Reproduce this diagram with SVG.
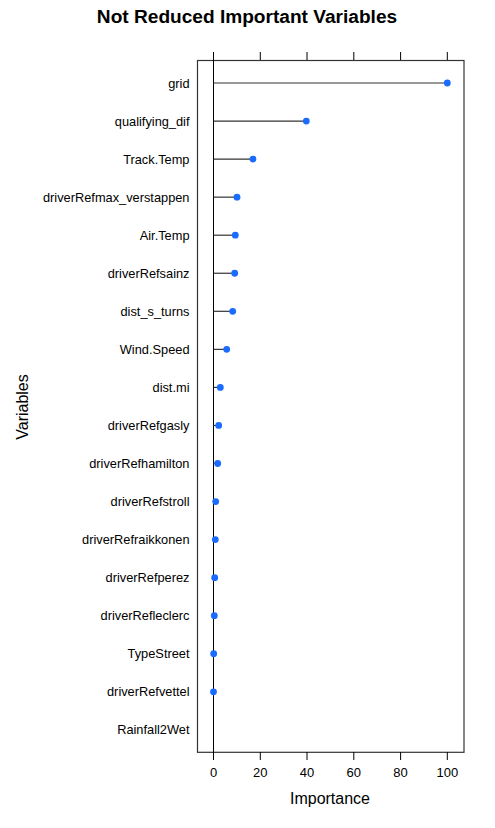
<svg xmlns="http://www.w3.org/2000/svg" width="495" height="828" viewBox="0 0 495 828">
<style>
text{font-family:"Liberation Sans",Arial,sans-serif;fill:#000}
.lab{font-size:12.8px;text-anchor:end}
.tick{font-size:13px;text-anchor:middle}
.seg{stroke:#333;stroke-width:1.2}
.pt{fill:#1a6bff}
.ax{stroke:#000;stroke-width:1;fill:none}
.box{stroke:#333;stroke-width:1.2;fill:none}
</style>
<rect width="495" height="828" fill="#fff"/>
<text x="247" y="22.5" font-size="19.1px" font-weight="bold" text-anchor="middle">Not Reduced Important Variables</text>
<rect class="box" x="197.5" y="60.5" width="266.5" height="691.8"/>
<g id="axes">
<line class="ax" x1="213.5" y1="52" x2="213.5" y2="760"/>
<g class="ax">
<line x1="260.3" y1="52" x2="260.3" y2="60"/>
<line x1="307" y1="52" x2="307" y2="60"/>
<line x1="353.8" y1="52" x2="353.8" y2="60"/>
<line x1="400.6" y1="52" x2="400.6" y2="60"/>
<line x1="447.3" y1="52" x2="447.3" y2="60"/>
<line x1="260.3" y1="752" x2="260.3" y2="760"/>
<line x1="307" y1="752" x2="307" y2="760"/>
<line x1="353.8" y1="752" x2="353.8" y2="760"/>
<line x1="400.6" y1="752" x2="400.6" y2="760"/>
<line x1="447.3" y1="752" x2="447.3" y2="760"/>
</g>
<text class="tick" x="213.5" y="776.7">0</text>
<text class="tick" x="260.3" y="776.7">20</text>
<text class="tick" x="307" y="776.7">40</text>
<text class="tick" x="353.8" y="776.7">60</text>
<text class="tick" x="400.6" y="776.7">80</text>
<text class="tick" x="447.3" y="776.7">100</text>
<text x="330" y="803.5" font-size="16px" text-anchor="middle">Importance</text>
<text transform="translate(27.5,407) rotate(-90)" font-size="16px" text-anchor="middle">Variables</text>
</g>
<g id="connectors">
<line class="seg" x1="213.5" y1="83" x2="447.3" y2="83"/>
<line class="seg" x1="213.5" y1="121.05" x2="306.3" y2="121.05"/>
<line class="seg" x1="213.5" y1="159.1" x2="253" y2="159.1"/>
<line class="seg" x1="213.5" y1="197.15" x2="237" y2="197.15"/>
<line class="seg" x1="213.5" y1="235.2" x2="235.3" y2="235.2"/>
<line class="seg" x1="213.5" y1="273.25" x2="234.7" y2="273.25"/>
<line class="seg" x1="213.5" y1="311.3" x2="232.7" y2="311.3"/>
<line class="seg" x1="213.5" y1="349.35" x2="226.7" y2="349.35"/>
<line class="seg" x1="213.5" y1="387.4" x2="220.3" y2="387.4"/>
<line class="seg" x1="213.5" y1="425.45" x2="218.7" y2="425.45"/>
<line class="seg" x1="213.5" y1="463.5" x2="217.7" y2="463.5"/>
<line class="seg" x1="213.5" y1="501.55" x2="215.7" y2="501.55"/>
<line class="seg" x1="213.5" y1="539.6" x2="215.3" y2="539.6"/>
</g>
<g id="grid"><text class="lab" x="189.5" y="87.5">grid</text><circle class="pt" cx="447.3" cy="83" r="3.4"/></g>
<g id="qualifying_dif"><text class="lab" x="189.5" y="125.55">qualifying_dif</text><circle class="pt" cx="306.3" cy="121.05" r="3.4"/></g>
<g id="Track.Temp"><text class="lab" x="189.5" y="163.6">Track.Temp</text><circle class="pt" cx="253" cy="159.1" r="3.4"/></g>
<g id="driverRefmax_verstappen"><text class="lab" x="189.5" y="201.65">driverRefmax_verstappen</text><circle class="pt" cx="237" cy="197.15" r="3.4"/></g>
<g id="Air.Temp"><text class="lab" x="189.5" y="239.7">Air.Temp</text><circle class="pt" cx="235.3" cy="235.2" r="3.4"/></g>
<g id="driverRefsainz"><text class="lab" x="189.5" y="277.75">driverRefsainz</text><circle class="pt" cx="234.7" cy="273.25" r="3.4"/></g>
<g id="dist_s_turns"><text class="lab" x="189.5" y="315.8">dist_s_turns</text><circle class="pt" cx="232.7" cy="311.3" r="3.4"/></g>
<g id="Wind.Speed"><text class="lab" x="189.5" y="353.85">Wind.Speed</text><circle class="pt" cx="226.7" cy="349.35" r="3.4"/></g>
<g id="dist.mi"><text class="lab" x="189.5" y="391.9">dist.mi</text><circle class="pt" cx="220.3" cy="387.4" r="3.4"/></g>
<g id="driverRefgasly"><text class="lab" x="189.5" y="429.95">driverRefgasly</text><circle class="pt" cx="218.7" cy="425.45" r="3.4"/></g>
<g id="driverRefhamilton"><text class="lab" x="189.5" y="468">driverRefhamilton</text><circle class="pt" cx="217.7" cy="463.5" r="3.4"/></g>
<g id="driverRefstroll"><text class="lab" x="189.5" y="506.05">driverRefstroll</text><circle class="pt" cx="215.7" cy="501.55" r="3.4"/></g>
<g id="driverRefraikkonen"><text class="lab" x="189.5" y="544.1">driverRefraikkonen</text><circle class="pt" cx="215.3" cy="539.6" r="3.4"/></g>
<g id="driverRefperez"><text class="lab" x="189.5" y="582.15">driverRefperez</text><circle class="pt" cx="214.7" cy="577.65" r="3.4"/></g>
<g id="driverRefleclerc"><text class="lab" x="189.5" y="620.2">driverRefleclerc</text><circle class="pt" cx="214.3" cy="615.7" r="3.4"/></g>
<g id="TypeStreet"><text class="lab" x="189.5" y="658.25">TypeStreet</text><circle class="pt" cx="213.7" cy="653.75" r="3.4"/></g>
<g id="driverRefvettel"><text class="lab" x="189.5" y="696.3">driverRefvettel</text><circle class="pt" cx="213.5" cy="691.8" r="3.4"/></g>
<g id="Rainfall2Wet"><text class="lab" x="189.5" y="734.35">Rainfall2Wet</text></g>
</svg>
